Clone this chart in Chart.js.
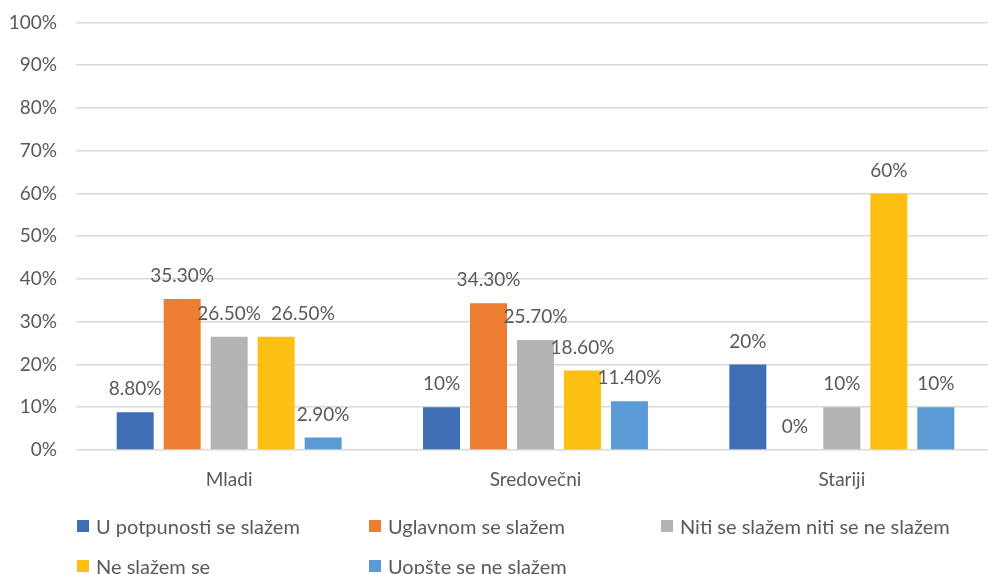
<!DOCTYPE html>
<html>
<head>
<meta charset="utf-8">
<script src="https://cdn.jsdelivr.net/npm/chart.js@4/dist/chart.umd.min.js"></script>
<style>
  html, body { margin: 0; padding: 0; background: #fff; overflow: hidden; width: 988px; height: 574px; }
  #wrap { position: absolute; left: 0; top: -8px; width: 996px; height: 498px; }
  #legend { position: absolute; left: 0; top: 0; width: 988px; height: 574px; pointer-events: none; }
  .li { position: absolute; display: flex; align-items: center; font-family: Lato, sans-serif; font-size: 20px; color: #595959; white-space: nowrap; height: 24px; }
  .li .box { width: 12px; height: 12px; margin-right: 7px; flex: none; }
</style>
</head>
<body>
<div id="wrap"><canvas id="c"></canvas></div>
<div id="legend"></div>
<script>
const categories = ['Mladi', 'Sredovečni', 'Stariji'];
const seriesNames = ['U potpunosti se slažem', 'Uglavnom se slažem', 'Niti se slažem niti se ne slažem', 'Ne slažem se', 'Uopšte se ne slažem'];
const uPotpunosti = [8.8, 10, 20];
const uglavnom = [35.3, 34.3, 0];
const niti = [26.5, 25.7, 10];
const neSlazem = [26.5, 18.6, 60];
const uopste = [2.9, 11.4, 10];
const valueLabels = [
  ['8.80%', '10%', '20%'],
  ['35.30%', '34.30%', '0%'],
  ['26.50%', '25.70%', '10%'],
  ['26.50%', '18.60%', '60%'],
  ['2.90%', '11.40%', '10%']
];
const yTicks = [0, 10, 20, 30, 40, 50, 60, 70, 80, 90, 100];
const colors = ['#3F6EB5', '#ED7D31', '#B3B3B3', '#FCBF12', '#5B9BD5'];

const seriesValues = [uPotpunosti, uglavnom, niti, neSlazem, uopste];

const labelPlugin = {
  id: 'valueLabels',
  afterDatasetsDraw(chart) {
    const ctx = chart.ctx;
    ctx.save();
    ctx.font = '19px Lato, sans-serif';
    ctx.fillStyle = '#595959';
    ctx.textAlign = 'center';
    ctx.textBaseline = 'middle';
    const n = chart.data.labels.length;
    for (let j = 0; j < n; j++) {
      const placed = [];
      chart.data.datasets.forEach((ds, i) => {
        const bar = chart.getDatasetMeta(i).data[j];
        const txt = valueLabels[i][j];
        const w = ctx.measureText(txt).width;
        let x = bar.x;
        const y = bar.y - 23;
        placed.forEach(p => {
          if (Math.abs(p.y - y) < 18 && x - w / 2 < p.r + 10 && x + w / 2 > p.l) {
            x = p.r + 10 + w / 2;
          }
        });
        placed.push({ l: x - w / 2, r: x + w / 2, y });
        ctx.fillText(txt, x, y);
      });
    }
    ctx.restore();
  }
};

const chart = new Chart(document.getElementById('c'), {
  type: 'bar',
  data: {
    labels: categories,
    datasets: seriesNames.map((n, i) => ({
      label: n,
      data: seriesValues[i],
      backgroundColor: colors[i],
      borderWidth: 0,
      categoryPercentage: 0.767,
      barPercentage: 0.787
    }))
  },
  options: {
    responsive: true,
    maintainAspectRatio: false,
    animation: false,
    layout: { padding: { top: 5, right: 1, left: 0, bottom: 0 } },
    plugins: { legend: { display: false }, tooltip: { enabled: false } },
    scales: {
      x: {
        grid: { display: false },
        border: { display: false },
        ticks: { font: { family: 'Lato', size: 19 }, color: '#595959', padding: 10 },
        afterFit(s) { s.height = 40; }
      },
      y: {
        min: 0, max: 100,
        afterBuildTicks(s) { s.ticks = yTicks.map(v => ({ value: v })); },
        grid: { color: '#D9D9D9', lineWidth: 1.5, drawTicks: false },
        border: { display: false },
        ticks: { font: { family: 'Lato', size: 19 }, color: '#595959', padding: 19, callback: v => v + '%' },
        afterFit(s) { s.width = 76; }
      }
    }
  },
  plugins: [labelPlugin]
});

const legendPos = [[77, 526], [369, 526], [661, 526], [77, 566], [369, 566]];
const leg = document.getElementById('legend');
chart.data.datasets.forEach((ds, i) => {
  const d = document.createElement('div');
  d.className = 'li';
  d.style.left = legendPos[i][0] + 'px';
  d.style.top = (legendPos[i][1] - 12) + 'px';
  const b = document.createElement('span');
  b.className = 'box';
  b.style.background = ds.backgroundColor;
  const t = document.createElement('span');
  t.textContent = ds.label;
  d.appendChild(b); d.appendChild(t);
  leg.appendChild(d);
});
</script>
</body>
</html>
